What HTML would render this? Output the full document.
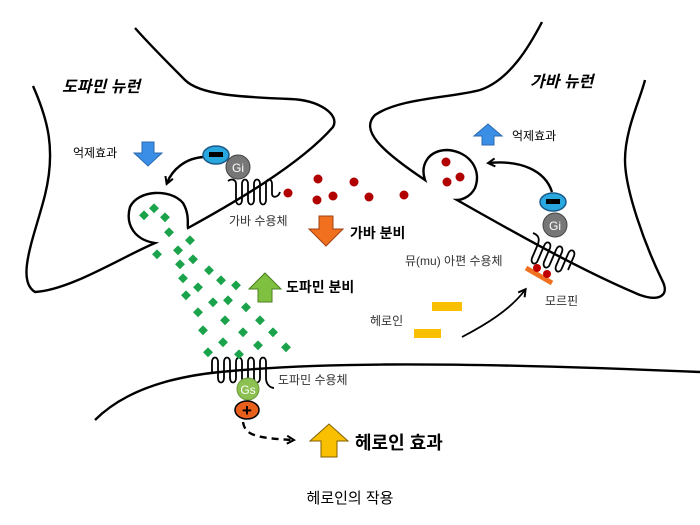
<!DOCTYPE html>
<html><head><meta charset="utf-8"><style>
html,body{margin:0;padding:0;background:#fff;}
svg{display:block}
text{font-family:"Liberation Sans","Noto Sans CJK KR",sans-serif;}
</style></head><body>
<svg width="700" height="525" viewBox="0 0 700 525" xmlns="http://www.w3.org/2000/svg">
<defs>
<marker id="ah" markerWidth="10" markerHeight="10" refX="7" refY="5" orient="auto" markerUnits="userSpaceOnUse">
<path d="M1,1 L8,5 L1,9" fill="none" stroke="#000" stroke-width="2"/>
</marker>
</defs>
<g fill="none" stroke="#000" stroke-width="2.4">
<path d="M33,86 C48,120 56,150 45,195 C35,235 15,280 35,292 C70,290 120,258 155,243 C135,240 125,225 130,207 C138,190 170,188 183,203 C190,215 187,225 188,228 C230,205 300,165 333,127 C340,115 320,100 290,99 C240,97 200,95 185,80 C170,65 150,45 135,28"/>
<path d="M542,22 C530,45 510,80 480,90 C450,98 400,98 375,115 C360,130 380,150 425,180 C420,165 428,150 448,150 C470,152 482,170 475,188 C470,198 460,200 457,200 C510,230 580,270 640,295 C660,302 670,295 662,280 C645,245 625,190 625,160 C625,130 640,100 645,80"/>
<path d="M95,420 C120,395 160,378 220,372 C300,364 420,360 700,372"/>
<path d="M204,157 C185,158 172,170 167,183" marker-end="url(#ah)"/>
<path d="M552,192 C545,170 520,160 489,163" marker-end="url(#ah)"/>
<path d="M462,337 C485,325 510,310 525,290" marker-end="url(#ah)" stroke-width="1.8"/>
<path d="M243,422 C245,435 255,438 293,440" stroke-dasharray="7,5" marker-end="url(#ah)" stroke-width="2.4"/>
<path d="M228,181 C232,178 236,180 236,184 L236,200 C236,206 242,206 242,200 L242,184 C242,178 248,178 248,184 L248,200 C248,206 254,206 254,200 L254,184 C254,178 260,178 260,184 L260,200 C260,206 266,206 266,200 L266,184 C266,178 272,178 272,184 L272,194 C272,198 278,198 280,192" stroke-width="1.8"/>
<path d="M533,233 C538,235 540,238 538,244 L532,258 C530,264 536,266 538,260 L544,246 C546,240 552,242 550,248 L544,262 C542,268 548,270 550,264 L556,250 C558,244 564,246 562,252 L556,266 C554,272 560,274 562,268 L568,254 C570,248 576,250 574,256 L568,270" stroke-width="1.8"/>
<path d="M212,372 L212,362 C212,356 218,356 218,362 L218,378 C218,384 224,384 224,378 L224,362 C224,356 230,356 230,362 L230,378 C230,384 236,384 236,378 L236,362 C236,356 242,356 242,362 L242,378 C242,384 248,384 248,378 L248,362 C248,356 254,356 254,362 L254,378 C254,384 260,384 260,378 L260,362 C260,356 266,356 266,362 L266,378 C266,386 272,388 274,388" stroke-width="1.8"/>
</g>
<circle cx="238" cy="167" r="12" fill="#777" stroke="#444"/>
<text x="238" y="172" font-size="12" fill="#fff" text-anchor="middle">Gi</text>
<ellipse cx="216" cy="155" rx="13" ry="9" fill="#29a8e0" stroke="#1a5a8a" stroke-width="1.5"/>
<rect x="209" y="152" width="14" height="5" fill="#000"/>
<circle cx="555" cy="225" r="12" fill="#777" stroke="#444"/>
<text x="555" y="230" font-size="12" fill="#fff" text-anchor="middle">Gi</text>
<ellipse cx="553" cy="202" rx="13" ry="9" fill="#29a8e0" stroke="#1a5a8a" stroke-width="1.5"/>
<rect x="546" y="199" width="14" height="5" fill="#000"/>
<circle cx="248" cy="389" r="11" fill="#8cc152" stroke="#6a9a3a"/>
<text x="248" y="394" font-size="12" fill="#fff" text-anchor="middle">Gs</text>
<ellipse cx="247" cy="410" rx="12" ry="9" fill="#e8601c" stroke="#000" stroke-width="1.5"/>
<text x="247" y="416" font-size="17" font-weight="bold" fill="#000" text-anchor="middle">+</text>
<line x1="526" y1="268" x2="552" y2="283" stroke="#f07020" stroke-width="5"/>
<circle cx="537" cy="268" r="4" fill="#c00000"/><circle cx="547" cy="274" r="4" fill="#c00000"/>
<g fill="#b00000">
<circle cx="318" cy="179" r="4.5"/><circle cx="288" cy="193" r="4.5"/><circle cx="317" cy="200" r="4.5"/><circle cx="333" cy="196" r="4.5"/>
<circle cx="354" cy="182" r="4.5"/><circle cx="369" cy="197" r="4.5"/><circle cx="404" cy="195" r="4.5"/>
<circle cx="446" cy="162" r="4.5"/><circle cx="447" cy="182" r="4.5"/><circle cx="460" cy="177" r="4.5"/>
</g>
<g fill="#1aa34a">
<rect x="140" y="212" width="7" height="7" transform="rotate(45 144 216)"/>
<rect x="150" y="205" width="7" height="7" transform="rotate(45 154 209)"/>
<rect x="161" y="214" width="7" height="7" transform="rotate(45 165 218)"/>
<rect x="165" y="229" width="7" height="7" transform="rotate(45 169 233)"/>
<rect x="153" y="251" width="7" height="7" transform="rotate(45 157 255)"/>
<rect x="174" y="247" width="7" height="7" transform="rotate(45 178 251)"/>
<rect x="186" y="237" width="7" height="7" transform="rotate(45 190 241)"/>
<rect x="176" y="261" width="7" height="7" transform="rotate(45 180 265)"/>
<rect x="189" y="256" width="7" height="7" transform="rotate(45 193 260)"/>
<rect x="179" y="275" width="7" height="7" transform="rotate(45 183 279)"/>
<rect x="205" y="267" width="7" height="7" transform="rotate(45 209 271)"/>
<rect x="194" y="284" width="7" height="7" transform="rotate(45 198 288)"/>
<rect x="217" y="277" width="7" height="7" transform="rotate(45 221 281)"/>
<rect x="232" y="282" width="7" height="7" transform="rotate(45 236 286)"/>
<rect x="182" y="292" width="7" height="7" transform="rotate(45 186 296)"/>
<rect x="209" y="299" width="7" height="7" transform="rotate(45 213 303)"/>
<rect x="224" y="297" width="7" height="7" transform="rotate(45 228 301)"/>
<rect x="194" y="309" width="7" height="7" transform="rotate(45 198 313)"/>
<rect x="242" y="304" width="7" height="7" transform="rotate(45 246 308)"/>
<rect x="221" y="317" width="7" height="7" transform="rotate(45 225 321)"/>
<rect x="256" y="317" width="7" height="7" transform="rotate(45 260 321)"/>
<rect x="199" y="327" width="7" height="7" transform="rotate(45 203 331)"/>
<rect x="239" y="329" width="7" height="7" transform="rotate(45 243 333)"/>
<rect x="269" y="329" width="7" height="7" transform="rotate(45 273 333)"/>
<rect x="219" y="339" width="7" height="7" transform="rotate(45 223 343)"/>
<rect x="254" y="342" width="7" height="7" transform="rotate(45 258 346)"/>
<rect x="282" y="344" width="7" height="7" transform="rotate(45 286 348)"/>
<rect x="204" y="349" width="7" height="7" transform="rotate(45 208 353)"/>
<rect x="235" y="351" width="7" height="7" transform="rotate(45 239 355)"/>
</g>
<path d="M142,142 L154,142 L154,153 L162,153 L148,166 L134,153 L142,153 Z" fill="#3a8ee6" stroke="#2a6ab0"/>
<path d="M482,145 L494,145 L494,136 L502,136 L488,124 L474,136 L482,136 Z" fill="#3a8ee6" stroke="#2a6ab0"/>
<path d="M319,216 L333,216 L333,229 L343,229 L326,246 L309,229 L319,229 Z" fill="#f07020" stroke="#a04010"/>
<path d="M258,302 L272,302 L272,289 L281,289 L265,273 L249,289 L258,289 Z" fill="#80c040" stroke="#4a8020"/>
<path d="M321,457 L337,457 L337,441 L348,441 L329,424 L310,441 L321,441 Z" fill="#f8c000" stroke="#806000"/>
<rect x="432" y="302" width="30" height="9" fill="#f8c000"/>
<rect x="414" y="329" width="27" height="9" fill="#f8c000"/>
<text x="62" y="92" font-size="16" font-weight="bold" font-style="italic">도파민 뉴런</text>
<text x="530" y="87" font-size="16" font-weight="bold" font-style="italic">가바 뉴런</text>
<text x="73" y="157" font-size="12">억제효과</text>
<text x="512" y="140" font-size="12">억제효과</text>
<text x="229" y="225" font-size="12" fill="#333">가바 수용체</text>
<text x="350" y="238" font-size="14" font-weight="bold">가바 분비</text>
<text x="286" y="292" font-size="14" font-weight="bold">도파민 분비</text>
<text x="405" y="265" font-size="12" fill="#333">뮤(mu) 아편 수용체</text>
<text x="545" y="305" font-size="12" fill="#333">모르핀</text>
<text x="370" y="325" font-size="12" fill="#333">헤로인</text>
<text x="278" y="384" font-size="12" fill="#333">도파민 수용체</text>
<text x="355" y="449" font-size="18" font-weight="bold">헤로인 효과</text>
<text x="350" y="503" font-size="15" text-anchor="middle" font-family="Liberation Serif,'Noto Serif CJK SC',serif">헤로인의 작용</text>
</svg>
</body></html>
